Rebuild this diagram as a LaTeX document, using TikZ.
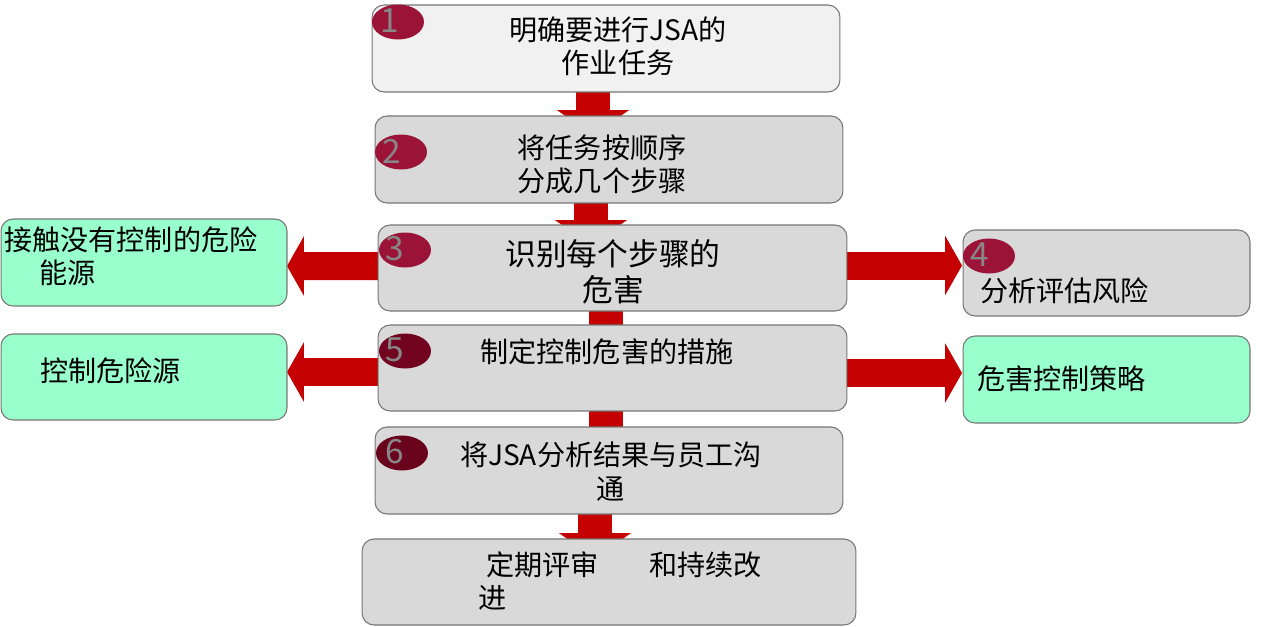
\documentclass[tikz,border=0pt]{standalone}
\usepackage{fontspec}
\setmainfont{Noto Sans CJK SC}
\usetikzlibrary{arrows.meta,shapes.geometric,calc,backgrounds}
\definecolor{boxline}{RGB}{118,118,118}
\definecolor{stepgray}{RGB}{217,217,217}
\definecolor{steplight}{RGB}{241,241,241}
\definecolor{mint}{RGB}{153,255,204}
\definecolor{flowred}{RGB}{196,0,0}
\definecolor{badgered}{RGB}{155,20,55}
\definecolor{badgedark}{RGB}{115,4,32}
\definecolor{numgray}{RGB}{135,135,135}

\tikzset{
  stepbox/.style={draw=boxline, fill=stepgray, line width=0.6pt,
    rounded corners=0.24cm, inner sep=0pt, outer sep=0pt,
    minimum width=9.36cm, minimum height=1.74cm},
  sidebox/.style={stepbox, fill=mint, minimum width=5.72cm},
  steptext/.style={align=center, inner sep=0pt, font=\fontsize{16}{19}\selectfont},
  sidetext/.style={align=left, anchor=west, inner sep=0pt, font=\fontsize{16}{19}\selectfont},
  badge/.style={ellipse, fill=badgered, inner sep=0pt, minimum width=1.04cm, minimum height=0.7cm},
  num/.style={text=numgray, inner sep=0pt, font=\fontsize{19}{19}\selectfont},
  downflow/.style={flowred, line width=0.68cm, -{Triangle[width=1.42cm,length=0.5cm]}},
  sideflow/.style={flowred, line width=0.56cm, -{Triangle[width=1.18cm,length=0.34cm]}}
}

\begin{document}
\begin{tikzpicture}[x=0.02cm, y=-0.02cm]
\useasboundingbox (0,0) rectangle (1278,626);

% the main steps
\node[stepbox, fill=steplight] (b1) at (606,48.5) {};
\node[stepbox] (b2) at (609,159.5) {};
\node[stepbox, minimum width=9.38cm, minimum height=1.72cm] (b3) at (612.5,268) {};
\node[stepbox, minimum width=9.38cm, minimum height=1.72cm] (b5) at (612.5,368) {};
\node[stepbox] (b6) at (609,470.5) {};
\node[stepbox, minimum width=9.88cm, minimum height=1.72cm] (b7) at (609,582) {};

% side boxes
\node[sidebox] (l1) at (144,262.5) {};
\node[sidebox, minimum height=1.72cm] (l2) at (144,377) {};
\node[stepbox, minimum width=5.74cm, minimum height=1.72cm] (b4) at (1106.5,273) {};
\node[sidebox, minimum width=5.74cm] (r2) at (1106.5,379.5) {};

% numbered badges
\node[badge] (e1) at (398,22) {};
\node[num] (n1) at (390,21) {1};
\node[badge] (e2) at (401,152) {};
\node[num] (n2) at (392,151) {2};
\node[badge] (e3) at (405,250) {};
\node[num] (n3) at (395,249) {3};
\node[badge] (e4) at (989,256) {};
\node[num] (n4) at (980,255) {4};
\node[badge, fill=badgedark] (e5) at (405,351) {};
\node[num] (n5) at (395,350) {5};
\node[badge, fill=badgedark!92!black] (e6) at (402,453) {};
\node[num] (n6) at (395,452) {6};

% texts
\node[steptext] (t1) at (618,46.5) {明确要进行JSA的\\作业任务};
\node[steptext] (t2) at (602,164.5) {将任务按顺序\\分成几个步骤};
\node[steptext, font=\fontsize{17.5}{20.5}\selectfont] (t3) at (613,271.5) {识别每个步骤的\\ 危害};
\node[steptext] (t5) at (607,352) {制定控制危害的措施};
\node[steptext] (t6) at (611,471.5) {将JSA分析结果与员工沟\\通};
\node[sidetext] (t7) at (478,581) {\hspace*{0.16cm}定期评审\hspace{1.8em}和持续改\\进};
\node[sidetext] (tl1) at (4,256.5) {接触没有控制的危险\\\hspace*{0.7cm}能源};
\node[sidetext] (tl2) at (40,371) {控制危险源};
\node[sidetext] (t4) at (980,291) {分析评估风险};
\node[sidetext] (tr2) at (977,379) {危害控制策略};

% red flow arrows behind the boxes
\begin{scope}[on background layer]
\draw[downflow] ($(b1.south)+(-13,0)$) -- ($(b2.north)+(-16,19)$);
\draw[downflow] ($(b2.south)+(-18,0)$) -- ($(b3.north)+(-21.5,20)$);
\draw[downflow] ($(b3.south)+(-6.5,0)$) -- ($(b5.north)+(-6.5,30)$);
\draw[downflow] ($(b5.south)+(-6.5,0)$) -- ($(b6.north)+(-3,30)$);
\draw[downflow] ($(b6.south)+(-14,0)$) -- ($(b7.north)+(-14,19)$);
\draw[sideflow] ($(b3.west)+(10,-2)$) -- ($(l1.east)+(0,3.5)$);
\draw[sideflow] ($(b5.west)+(10,4)$) -- ($(l2.east)+(0,-5)$);
\draw[sideflow] ($(b3.east)+(-5,-2.5)$) -- ($(b4.west)+(-1,-7.5)$);
\draw[sideflow] ($(b5.east)+(-5,5)$) -- ($(r2.west)+(-1,-6.5)$);
\end{scope}
\end{tikzpicture}
\end{document}
